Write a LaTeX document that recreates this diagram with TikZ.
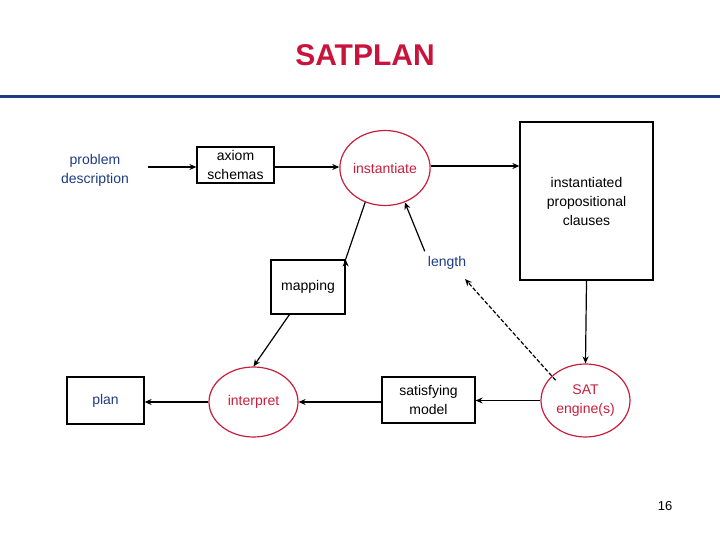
\documentclass[tikz,border=0pt]{standalone}
\usepackage{fontspec}
\setmainfont{Liberation Sans}
\usetikzlibrary{shapes.geometric,arrows.meta}
\definecolor{tred}{RGB}{200,20,60}
\definecolor{tblue}{RGB}{30,60,130}
\definecolor{cred}{RGB}{200,30,60}
\begin{document}
\begin{tikzpicture}[x=1pt,y=-1pt,
  txt/.style={font=\fontsize{14}{19}\selectfont,align=center,inner sep=0},
  box/.style={draw,line width=1.2pt,txt},
  circ/.style={draw=cred,line width=1.2pt,ellipse,txt,text=cred},
  arr/.style={line width=1.2pt,-{Stealth[length=7pt,width=6pt]}}]
\useasboundingbox (0,0) rectangle (720,540);
\node[font=\fontsize{30}{34}\selectfont\bfseries,text=tred] (title) at (365,55) {SATPLAN};
\draw[tblue,line width=3pt] (0,97) -- (720,97);
\node[txt,text=tblue] (pd) at (95,170) {problem\\description};
\node[box,minimum width=77pt,minimum height=36pt] (ax) at (235.5,165) {axiom\\schemas};
\node[circ,minimum width=86pt,minimum height=75pt] (inst) at (385,168) {instantiate};
\node[box,minimum width=133pt,minimum height=158pt] (ipc) at (586.5,201) {instantiated\\propositional\\clauses};
\node[box,minimum width=74pt,minimum height=54pt] (map) at (308,287) {mapping};
\node[txt,text=tblue] (len) at (447,263) {length};
\node[box,text=tblue,minimum width=77pt,minimum height=47pt] (plan) at (105.5,400.5) {plan};
\node[circ,minimum width=89pt,minimum height=70pt] (interp) at (253.5,402) {interpret};
\node[box,minimum width=93pt,minimum height=46pt] (sm) at (428.5,400) {satisfying\\model};
\node[circ,minimum width=89pt,minimum height=73pt] (sat) at (585.5,400.5) {SAT\\engine(s)};
\node[font=\fontsize{13}{15}\selectfont\rmfamily] (pg) at (665,506) {16};
\coordinate (pdr) at (148,167);
\draw[arr] (pdr) -- (ax.west |- pdr);
\draw[arr] (ax.east |- pdr) -- (inst.west |- pdr);
\draw[arr] (inst.east |- 0,166) -- (ipc.west |- 0,166);
\draw[arr] (inst.240) -- (map.north east) ++(0,0);
\draw[arr] (map.south west) ++(19,0) coordinate (ms) (ms) -- (interp.north);
\draw[arr] (len.north west) ++(-3,-5) coordinate (ln) (ln) -- (inst.300);
\draw[arr,dash pattern=on 4pt off 2pt] (sat.north west) ++(2,6) coordinate (sn) (sn) -- (465,279);
\draw[arr] (ipc.south) -- (sat.north);
\draw[arr] (sat.west) -- (sm.east |- sat.west);
\draw[arr] (sm.west |- interp.east) -- (interp.east);
\draw[arr] (interp.west) -- (plan.east |- interp.west);
\end{tikzpicture}
\end{document}
